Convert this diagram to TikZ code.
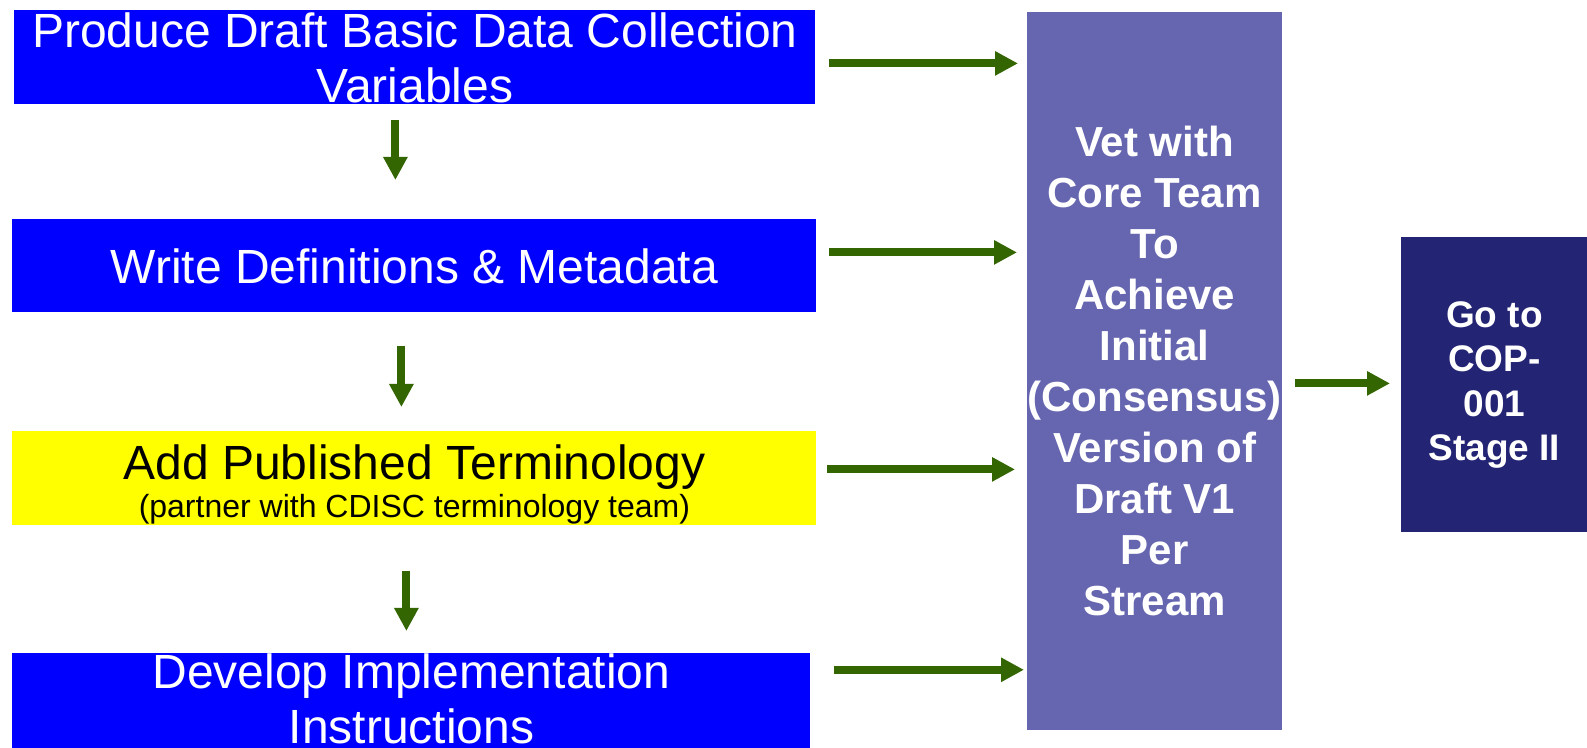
\documentclass[tikz,border=0pt]{standalone}
\usepackage{fontspec}
\setmainfont{Liberation Sans}
\usetikzlibrary{arrows.meta}
\usetikzlibrary{calc}

\definecolor{stepblue}{RGB}{0,0,255}
\definecolor{termyellow}{RGB}{255,255,0}
\definecolor{vetpurple}{RGB}{102,102,176}
\definecolor{copnavy}{RGB}{36,36,116}
\definecolor{arrowgreen}{RGB}{51,102,0}

\begin{document}
\begin{tikzpicture}
	[x=0.5pt,y=-0.5pt,
	every node/.style={rectangle,anchor=north west,inner sep=0pt,align=center},
	stepbox/.style={fill=stepblue,text=white,font=\fontsize{24}{27.5}\selectfont},
	arr/.style={draw=arrowgreen,line width=4pt,-{Triangle[length=11.5pt,width=11.5pt]}}]
	\useasboundingbox (0,0) rectangle (1587,748);
	\node[stepbox,minimum width=400.5pt,minimum height=47pt] (b1) at (14,10) {Produce Draft Basic Data Collection\\Variables};
	\node[stepbox,minimum width=402pt,minimum height=46.5pt] (b2) at (12,219) {Write Definitions \& Metadata};
	\node[stepbox,fill=termyellow,text=black,minimum width=402pt,minimum height=47pt] (b3) at (12,431) {\rule{0pt}{23.4pt}Add Published Terminology\\[-8.5pt]{\fontsize{16}{19}\selectfont (partner with CDISC terminology team)}};
	\node[stepbox,minimum width=399pt,minimum height=46.5pt] (b4) at (12,653) {Develop Implementation\\Instructions\rule[-3pt]{0pt}{0pt}};
	\node[fill=vetpurple,text=white,font=\bfseries\fontsize{21}{25.5}\selectfont,minimum width=127pt,minimum height=359pt] (vet) at (1027,12) {Vet with\\Core Team\\To\\Achieve\\Initial\\(Consensus)\\Version of\\Draft V1\\Per\\Stream};
	\node[fill=copnavy,text=white,font=\bfseries\fontsize{18.5}{22.25}\selectfont,minimum width=93pt,minimum height=147.5pt] (cop) at (1401,237) {Go to\\COP-\\001\\Stage II};
	
	\foreach \b/\sx/\dy/\ex in 
	{b1/13/6/-9, b2/12/-13.5/-10, b3/10/-9/-12, b4/23/-31.5/-3}
	\draw[arr] ($(\b.east)+(\sx,\dy)$) -- ($(\b.east -| vet.west)+(\ex,\dy)$);
	
	\foreach \from/\to/\dx/\sy/\ey in 
	{b1/b2/-19.5/15/-39, b2/b3/-13/33/-24, b3/b4/-8/45/-22}
	\draw[arr] ($(\from.south)+(\dx,\sy)$) -- ($(\from.south |- \to.north)+(\dx,\ey)$);
	
	\draw[arr] ($(vet.east |- cop.west)+(13,-1.5)$) -- ($(cop.west)+(-11,-1.5)$);
\end{tikzpicture}
\end{document}
